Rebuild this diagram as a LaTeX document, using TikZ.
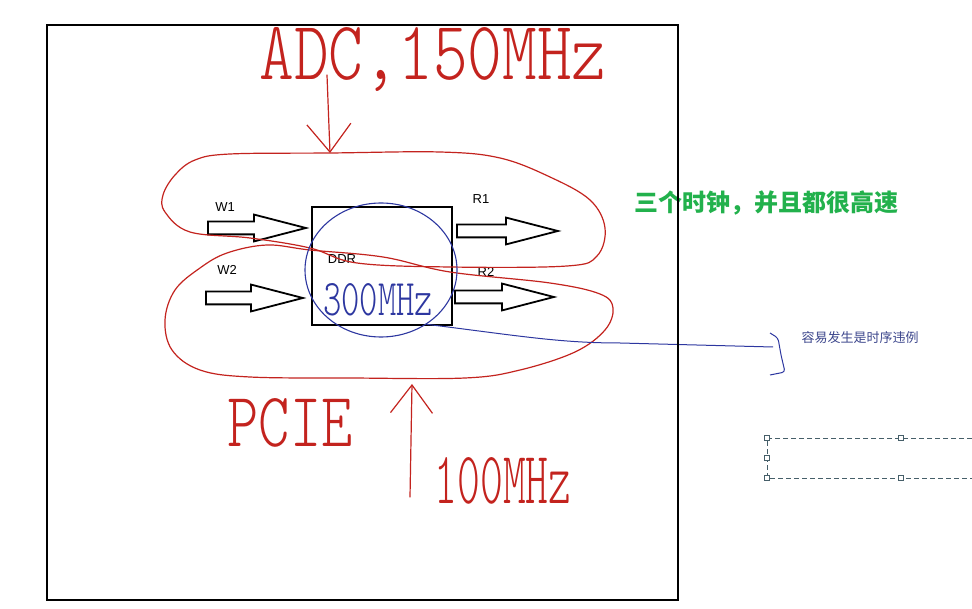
\documentclass[tikz,border=0pt]{standalone}
\usepackage{fontspec}
\usepackage{graphicx}
\setmainfont{Liberation Sans}
\newfontfamily\cjk{Noto Sans CJK SC}
\newfontfamily\handfont{lmmonolt10-regular.otf}
\usetikzlibrary{shapes.arrows, shapes.geometric, arrows.meta, positioning}
\definecolor{penred}{RGB}{195,35,30}
\definecolor{penblue}{RGB}{45,55,160}
\definecolor{notenavy}{RGB}{60,70,140}
\definecolor{notegreen}{RGB}{34,177,76}
\definecolor{selgray}{RGB}{70,95,105}

\begin{document}
\begin{tikzpicture}[x=1pt, y=-1pt,
  blockarrow/.style={single arrow, draw=black, line width=1.8pt, fill=white,
                     minimum height=98pt, minimum width=25pt, inner xsep=0pt,
                     inner ysep=5.5pt, single arrow head extend=7pt,
                     single arrow tip angle=29, anchor=tail},
  lbl/.style={font=\fontsize{13}{15}\selectfont},
  penline/.style={penred, line width=1.2pt, line cap=round, line join=round},
  hand/.style={text=penred, font=\handfont, inner sep=0pt},
  handle/.style={draw=selgray, fill=white, minimum size=5pt, inner sep=0pt},
]
\useasboundingbox (0,0) rectangle (972,609);

% block arrows and DDR
\node[draw, line width=1.8pt, minimum width=140pt, minimum height=118pt,
      anchor=north west] (ddr) at (311,206) {};
\node[lbl] (ddrlbl) at (342,259) {DDR};
\node[blockarrow] (w1arrow) at (207,228) {};
\node[blockarrow, minimum height=97pt] (w2arrow) at (205,298) {};
\node[blockarrow, minimum height=101pt] (r1arrow) at (456,231) {};
\node[blockarrow, minimum height=99pt] (r2arrow) at (454,297) {};
\node[lbl] (w1) at (225,207) {W1};
\node[lbl] (w2) at (227,270) {W2};
\node[lbl] (r1) at (481,199) {R1};
\node[lbl] (r2) at (486,272) {R2};

% red clock domains
\draw[penline] plot[smooth cycle, tension=0.6] coordinates {
  (330,153) (440,152) (500,158) (550,177) (590,200) (605,228) (597,256)
  (567,266) (450,267) (357,263) (310,248) (250,238) (190,232) (165,212)
  (163,195) (175,175) (195,160) (230,154)};
\draw[penline] plot[smooth cycle, tension=0.6] coordinates {
  (227,253) (267,245) (310,250) (383,257) (450,272) (550,283) (600,294)
  (613,308) (605,330) (575,352) (520,370) (465,378) (350,378) (250,377)
  (200,370) (172,350) (165,320) (175,290) (200,268)};

\node[hand] (adc) at (433,60) {\resizebox{347pt}{52pt}{ADC,150MHz}};
\coordinate (adcout) at (327,75);
\coordinate (adcin) at (330,153);
\draw[penline, -{Straight Barb[length=28pt, width=44pt]}] (adcout) -- (adcin);

\node[hand] (pcie) at (290,423) {\resizebox{125pt}{48pt}{PCIE}};
\node[hand] (pcieclk) at (503,481) {\resizebox{137pt}{46pt}{100MHz}};
\coordinate (pcieout) at (410,497);
\coordinate (pciein) at (412,384);
\draw[penline, -{Straight Barb[length=28pt, width=42pt]}] (pcieout) -- (pciein);

% blue DDR clock
\node[draw=penblue, line width=1.1pt, ellipse, minimum width=152pt,
      minimum height=134pt] (clk300) at (381,270) {};
\node[text=penblue, font=\handfont, inner sep=0pt] (f300) at (378,300)
  {\resizebox{110pt}{32pt}{300MHz}};
\coordinate (braceend) at (773,347);
\draw[penblue, line width=1pt] (clk300.-50) .. controls (520,336) and (560,343) .. (620,343)
  -- (braceend);
\draw[penblue, line width=1pt, rounded corners=3pt]
  (770,333) -- (778,338) -- (781,355) -- (785,372) -- (770,375);
\node[font=\cjk\fontsize{13}{15}\selectfont, text=notenavy, anchor=west] (note)
  at (798,338) {容易发生是时序违例};

\node[font=\cjk\bfseries\fontsize{24}{28}\selectfont, text=notegreen] (summary)
  at (766,203) {三个时钟，并且都很高速};

% selection frame
\draw[selgray, line width=0.8pt, dash pattern=on 5pt off 3pt]
  (972,438) -- (767,438) -- (767,478) -- (972,478);
\foreach \hx/\hy in {767/438, 901/438, 767/458, 767/478, 901/478}
  \node[handle] at (\hx,\hy) {};

\draw[line width=2pt] (47,25) rectangle (678,600);
\end{tikzpicture}
\end{document}
